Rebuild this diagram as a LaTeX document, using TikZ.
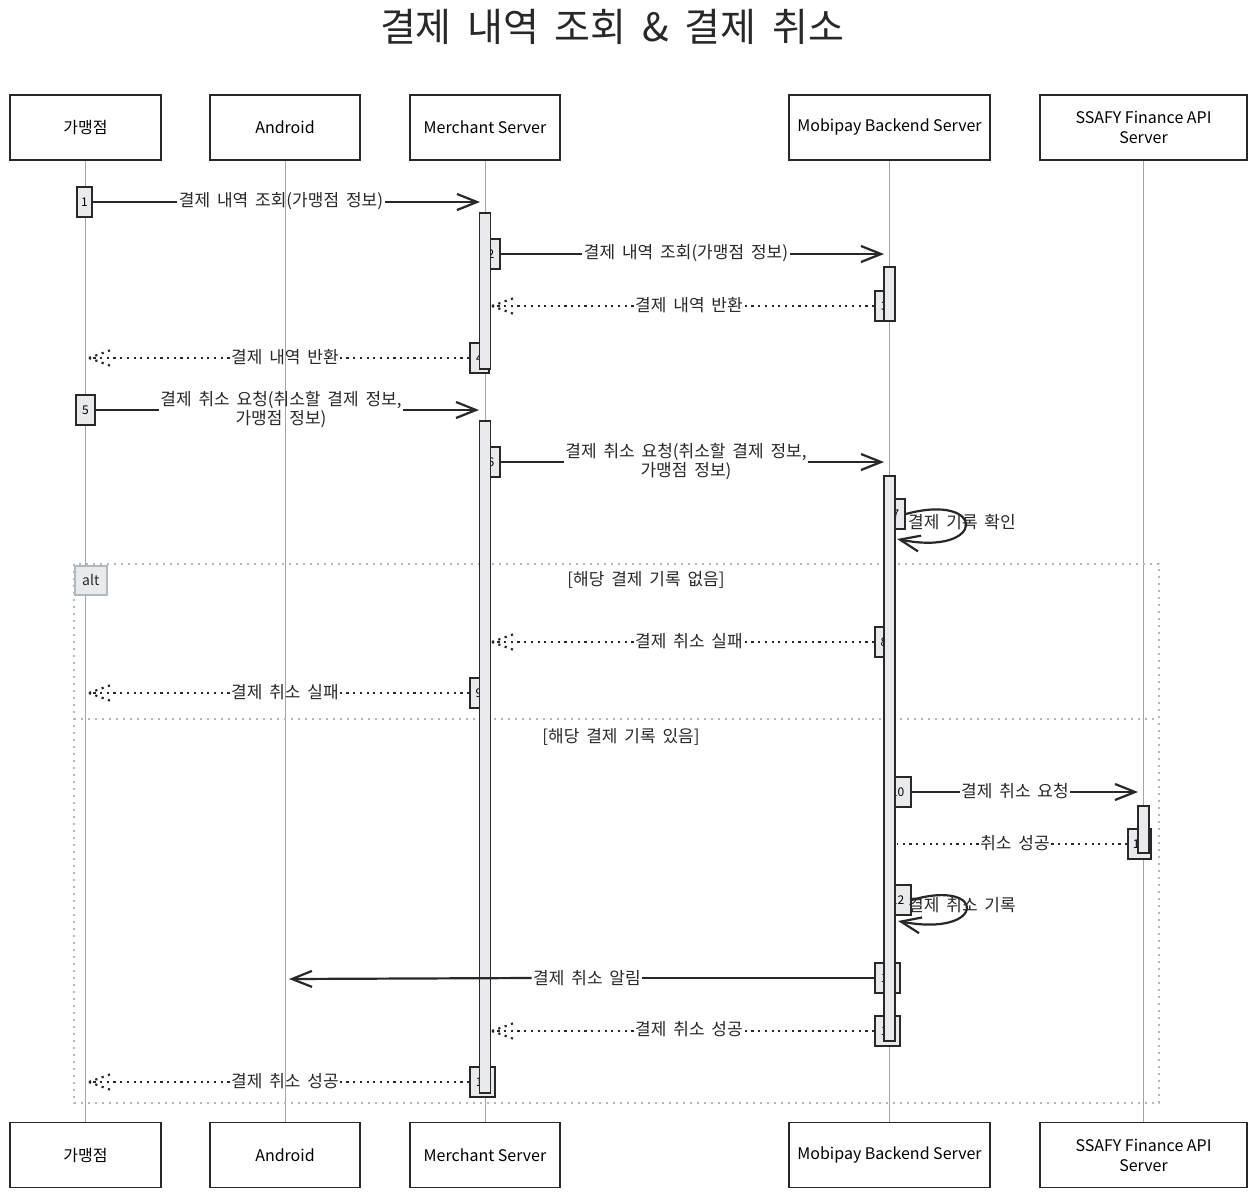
\documentclass[tikz,border=0pt]{standalone}
\usepackage{fontspec}
\setmainfont{Noto Sans CJK KR}
\newfontfamily\lblfont[WordSpace=1.8]{Noto Sans CJK KR}
\usetikzlibrary{arrows.meta}
\definecolor{barfill}{RGB}{232,234,237}
\definecolor{framec}{RGB}{176,184,192}
\definecolor{lifec}{RGB}{165,165,165}
\definecolor{ink}{RGB}{40,40,40}
\begin{document}
\begin{tikzpicture}[x=1pt,y=-1pt,
 part/.style={draw=ink, line width=1.8pt, fill=white, font=\fontsize{16}{20}\selectfont, align=center, inner sep=0pt, minimum height=65pt},
 lifeline/.style={draw=lifec, line width=1pt},
 actbar/.style={draw=ink, line width=1.8pt, fill=barfill, inner sep=0pt, minimum width=11pt, anchor=north},
 numbox/.style={draw=ink, line width=1.5pt, fill=barfill, inner sep=0pt, minimum height=30pt, font=\fontsize{12}{14}\selectfont},
 msg/.style={font=\lblfont\fontsize{17}{19}\selectfont, inner sep=1.5pt, align=center, text=ink},
 callline/.style={draw=ink, line width=2.2pt},
 callarrow/.style={draw=ink, line width=2.2pt, -{Straight Barb[length=20pt,width=16pt]}},
 retline/.style={draw=ink, line width=2.2pt, dash pattern=on 2.2pt off 4.5pt},
 frameline/.style={draw=framec, line width=2pt, dash pattern=on 2pt off 5pt}
]
\useasboundingbox (0,0) rectangle (1256,1197);

% title
\node[font=\lblfont\fontsize{39}{45}\selectfont, text=ink] (title) at (612,27) {결제 내역 조회 \& 결제 취소};

% participants
\node[part, minimum width=151pt] (p1t) at (85.5,127.5) {가맹점};
\node[part, minimum width=150pt] (p2t) at (285,127.5) {Android};
\node[part, minimum width=150pt] (p3t) at (485,127.5) {Merchant Server};
\node[part, minimum width=201pt] (p4t) at (889.5,127.5) {Mobipay Backend Server};
\node[part, minimum width=207pt] (p5t) at (1143.5,127.5) {SSAFY Finance API\\Server};
\node[part, minimum width=151pt] (p1b) at (85.5,1155) {가맹점};
\node[part, minimum width=150pt] (p2b) at (285,1155) {Android};
\node[part, minimum width=150pt] (p3b) at (485,1155) {Merchant Server};
\node[part, minimum width=201pt] (p4b) at (889.5,1155) {Mobipay Backend Server};
\node[part, minimum width=207pt] (p5b) at (1143.5,1155) {SSAFY Finance API\\Server};

% lifelines
\foreach \i in {1,...,5} \draw[lifeline] (p\i t.south) -- (p\i b.north);

% alt frame
\draw[frameline] (74,564) rectangle (1159,1103);
\draw[frameline] (74,719) -- (1159,719);
\node[draw=framec, line width=1.5pt, fill=barfill, minimum width=32pt, minimum height=29pt, inner sep=0pt, anchor=north west, font=\fontsize{14}{16}\selectfont, text=ink] (alt) at (74,565) {alt};
\node[msg] (c1) at (646,580) {[해당 결제 기록 없음]};
\node[msg] (c2) at (621,737) {[해당 결제 기록 있음]};

% sequence number boxes
\node[numbox, minimum width=15pt] (b1) at (84.5,202) {1};
\node[numbox, minimum width=18pt] (b2) at (491,254) {2};
\node[numbox, minimum width=19pt] (b3) at (884.5,306) {3};
\node[numbox, minimum width=19pt] (b4) at (479.5,358) {4};
\node[numbox, minimum width=19pt] (b5) at (85.5,410) {5};
\node[numbox, minimum width=18pt] (b6) at (491,462) {6};
\node[numbox, minimum width=18pt] (b7) at (896,514) {7};
\node[numbox, minimum width=18pt] (b8) at (884,642) {8};
\node[numbox, minimum width=18pt] (b9) at (479,693) {9};
\node[numbox, minimum width=27pt] (b10) at (897.5,792) {10};
\node[numbox, minimum width=23pt] (b11) at (1139.5,844) {11};
\node[numbox, minimum width=27pt] (b12) at (897.5,900) {12};
\node[numbox, minimum width=25pt] (b13) at (887.5,978) {13};
\node[numbox, minimum width=25pt] (b14) at (887.5,1031) {14};
\node[numbox, minimum width=25pt] (b15) at (482.5,1082) {15};

% activation bars
\node[actbar, minimum height=156pt] (m1) at (485,212) {};
\node[actbar, minimum height=54pt] (k1) at (889.5,266) {};
\node[actbar, minimum height=672pt] (m2) at (485,420) {};
\node[actbar, minimum height=565pt] (k2) at (889.5,475) {};
\node[actbar, minimum height=47pt] (s1) at (1143.5,805) {};

% message 1
\node[msg] (l1) at (281,201) {결제 내역 조회(가맹점 정보)};
\coordinate (t1) at (480,202);
\draw[callline] (b1.east) -- (b1.east -| l1.west);
\draw[callarrow] (b1.east -| l1.east) -- (t1);

% message 2
\node[msg] (l2) at (686,253) {결제 내역 조회(가맹점 정보)};
\coordinate (t2) at (884,254);
\draw[callline] (b2.east) -- (b2.east -| l2.west);
\draw[callarrow] (b2.east -| l2.east) -- (t2);

% message 3
\node[msg] (l3) at (689,305) {결제 내역 반환};
\coordinate (t3) at (492,306);
\draw[retline] (b3.west) -- (b3.west -| l3.east);
\draw[retline] (b3.west -| l3.west) -- (t3);
\draw[retline] (t3) -- ++(22,-8) (t3) -- ++(22,8);

% message 4
\node[msg] (l4) at (285,357) {결제 내역 반환};
\coordinate (t4) at (89,358);
\draw[retline] (b4.west) -- (b4.west -| l4.east);
\draw[retline] (b4.west -| l4.west) -- (t4);
\draw[retline] (t4) -- ++(22,-8) (t4) -- ++(22,8);

% message 5
\node[msg] (l5) at (281,410) {결제 취소 요청(취소할 결제 정보,\\가맹점 정보)};
\coordinate (t5) at (479,410);
\draw[callline] (b5.east) -- (b5.east -| l5.west);
\draw[callarrow] (b5.east -| l5.east) -- (t5);

% message 6
\node[msg] (l6) at (686,462) {결제 취소 요청(취소할 결제 정보,\\가맹점 정보)};
\coordinate (t6) at (884,462);
\draw[callline] (b6.east) -- (b6.east -| l6.west);
\draw[callarrow] (b6.east -| l6.east) -- (t6);

% message 7 (self)
\coordinate (t7) at (897,539);
\draw[callarrow] (b7.east) .. controls (987,492) and (987,557) .. (t7);
\node[msg] (l7) at (962,522) {결제 기록 확인};

% message 8
\node[msg] (l8) at (689,641) {결제 취소 실패};
\coordinate (t8) at (492,642);
\draw[retline] (b8.west) -- (b8.west -| l8.east);
\draw[retline] (b8.west -| l8.west) -- (t8);
\draw[retline] (t8) -- ++(22,-8) (t8) -- ++(22,8);

% message 9
\node[msg] (l9) at (285,692) {결제 취소 실패};
\coordinate (t9) at (89,693);
\draw[retline] (b9.west) -- (b9.west -| l9.east);
\draw[retline] (b9.west -| l9.west) -- (t9);
\draw[retline] (t9) -- ++(22,-8) (t9) -- ++(22,8);

% message 10
\node[msg] (l10) at (1015,791) {결제 취소 요청};
\coordinate (t10) at (1138,792);
\draw[callline] (b10.east) -- (b10.east -| l10.west);
\draw[callarrow] (b10.east -| l10.east) -- (t10);

% message 11
\node[msg] (l11) at (1015,843) {취소 성공};
\coordinate (t11) at (897,844);
\draw[retline] (b11.west) -- (b11.west -| l11.east);
\draw[retline] (b11.west -| l11.west) -- (t11);

% message 12 (self)
\coordinate (t12) at (898,921);
\draw[callarrow] (b12.east) .. controls (987,878) and (987,938) .. (t12);
\node[msg] (l12) at (962,905) {결제 취소 기록};

% message 13
\node[msg] (l13) at (587,978) {결제 취소 알림};
\coordinate (t13) at (289,979);
\draw[callline] (b13.west) -- (b13.west -| l13.east);
\draw[callarrow] (b13.west -| l13.west) -- (t13);

% message 14
\node[msg] (l14) at (689,1029) {결제 취소 성공};
\coordinate (t14) at (492,1031);
\draw[retline] (b14.west) -- (b14.west -| l14.east);
\draw[retline] (b14.west -| l14.west) -- (t14);
\draw[retline] (t14) -- ++(22,-8) (t14) -- ++(22,8);

% message 15
\node[msg] (l15) at (285,1081) {결제 취소 성공};
\coordinate (t15) at (89,1082);
\draw[retline] (b15.west) -- (b15.west -| l15.east);
\draw[retline] (b15.west -| l15.west) -- (t15);
\draw[retline] (t15) -- ++(22,-8) (t15) -- ++(22,8);
\end{tikzpicture}
\end{document}
